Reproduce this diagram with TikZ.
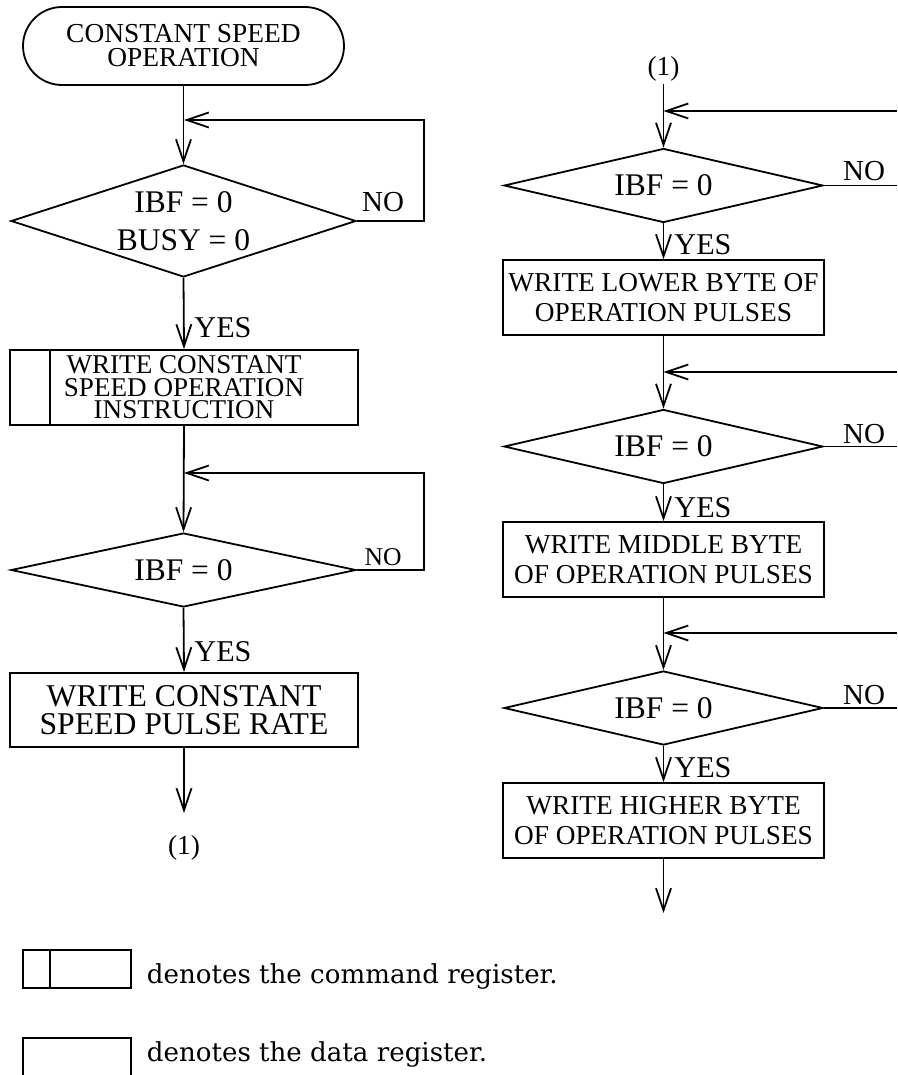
\documentclass[tikz,border=0pt]{standalone}
\usepackage{fontspec}
\setmainfont{Liberation Serif}
\newfontfamily\legendfont{DejaVu Serif}
\usetikzlibrary{arrows.meta,shapes.geometric,shapes.misc}

\tikzset{
  arr/.style={-{Straight Barb[length=22pt,width=15pt]}},
  terminal/.style={draw, rounded rectangle, minimum width=321pt, minimum height=78pt,
    inner sep=0pt, align=center, font=\fontsize{27.4}{24}\selectfont},
  decision/.style={draw, diamond, aspect=3, inner sep=0pt, align=center,
    font=\fontsize{31.5}{38}\selectfont},
  cmdbox/.style={draw, rectangle, minimum width=348pt, minimum height=75pt,
    inner sep=0pt, align=center, font=\fontsize{27.1}{22.5}\selectfont},
  databox/.style={draw, rectangle, minimum width=348pt, minimum height=74pt,
    inner sep=0pt, align=center, font=\fontsize{31.7}{28}\selectfont},
  rbox/.style={draw, rectangle, minimum width=321pt, minimum height=75pt,
    inner sep=0pt, align=center, font=\fontsize{27.3}{30}\selectfont},
  yeslbl/.style={inner sep=0pt, font=\fontsize{30.2}{30}\selectfont},
  nolbl/.style={inner sep=0pt, font=\fontsize{29}{29}\selectfont},
  conn/.style={inner sep=2pt, font=\fontsize{27.4}{27}\selectfont},
  legendtext/.style={inner sep=0pt, font=\legendfont\fontsize{26.1}{30}\selectfont}
}

\begin{document}
\begin{tikzpicture}[x=1pt,y=-1pt,line width=1.8pt]
\path[use as bounding box] (0,0) rectangle (897,1075);
\clip (0,0) rectangle (897,1075);

% ---------------- left column ----------------
\node[terminal] (start) at (183.5,46) {CONSTANT SPEED\\OPERATION};
\node[decision, minimum width=345pt, minimum height=112pt] (d1) at (183.5,221)
  {IBF = 0\\BUSY = 0};
\node[cmdbox] (cmd) at (184,387.5) {WRITE CONSTANT\\SPEED OPERATION\\INSTRUCTION};
\draw (50,350) -- (50,425);
\node[decision, minimum width=345pt, minimum height=74pt] (d2) at (183.5,570) {IBF = 0};
\node[databox] (rate) at (184,710) {WRITE CONSTANT\\SPEED PULSE RATE};
\node[conn] (c1) at (184,848) {(1)};

\coordinate (j1) at (184,120);
\coordinate (l1) at (424,120);
\coordinate (j2) at (184,473);
\coordinate (l2) at (424,473);
\coordinate (e1) at (184,813);

\draw[arr] (start.south) -- (d1.north);
\draw[arr] (d1.east) -| (l1) -- (j1);
\draw[arr] (d1.south) -- (cmd.north);
\draw[arr] (cmd.south) -- (d2.north);
\draw[arr] (d2.east) -| (l2) -- (j2);
\draw[arr] (d2.south) -- (rate.north);
\draw[arr] (rate.south) -- (e1);

\node[nolbl] at (383,202) {NO};
\node[nolbl, font=\fontsize{25.6}{26}\selectfont] at (383,557) {NO};
\node[yeslbl] at (223,328) {YES};
\node[yeslbl] at (223,652) {YES};

% ---------------- right column ----------------
\node[conn] (c2) at (663.5,69) {(1)};
\node[decision, minimum width=319pt, minimum height=74pt] (d3) at (663.5,185.5) {IBF = 0};
\node[rbox] (b3) at (663.5,297.5) {WRITE LOWER BYTE OF\\OPERATION PULSES};
\node[decision, minimum width=319pt, minimum height=74pt] (d4) at (663.5,446.5) {IBF = 0};
\node[rbox] (b4) at (663.5,559.5) {WRITE MIDDLE BYTE\\OF OPERATION PULSES};
\node[decision, minimum width=319pt, minimum height=74pt] (d5) at (663.5,708) {IBF = 0};
\node[rbox] (b5) at (663.5,820.5) {WRITE HIGHER BYTE\\OF OPERATION PULSES};

\coordinate (j3) at (663.5,111);
\coordinate (r3) at (897,111);
\coordinate (n3) at (897,185.5);
\coordinate (j4) at (663.5,372);
\coordinate (r4) at (897,372);
\coordinate (n4) at (897,446.5);
\coordinate (j5) at (663.5,633);
\coordinate (r5) at (897,633);
\coordinate (n5) at (897,708);
\coordinate (e2) at (663.5,913);

\draw[arr] (c2.south) -- (d3.north);
\draw[arr] (r3) -- (j3);
\draw (d3.east) -- (n3);
\draw[arr] (d3.south) -- (b3.north);
\draw[arr] (b3.south) -- (d4.north);
\draw[arr] (r4) -- (j4);
\draw (d4.east) -- (n4);
\draw[arr] (d4.south) -- (b4.north);
\draw[arr] (b4.south) -- (d5.north);
\draw[arr] (r5) -- (j5);
\draw (d5.east) -- (n5);
\draw[arr] (d5.south) -- (b5.north);
\draw[arr] (b5.south) -- (e2);

\node[nolbl] at (864,171) {NO};
\node[nolbl] at (864,434) {NO};
\node[nolbl] at (864,695) {NO};
\node[yeslbl] at (703,245) {YES};
\node[yeslbl] at (703,508) {YES};
\node[yeslbl] at (703,768) {YES};

% ---------------- legend ----------------
\draw (23,950) rectangle (131,988);
\draw (50,950) -- (50,988);
\node[legendtext, anchor=base west] at (146,983) {denotes the command register.};
\draw (23,1038) rectangle (131,1100);
\node[legendtext, anchor=base west] at (146,1061) {denotes the data register.};
\end{tikzpicture}
\end{document}
